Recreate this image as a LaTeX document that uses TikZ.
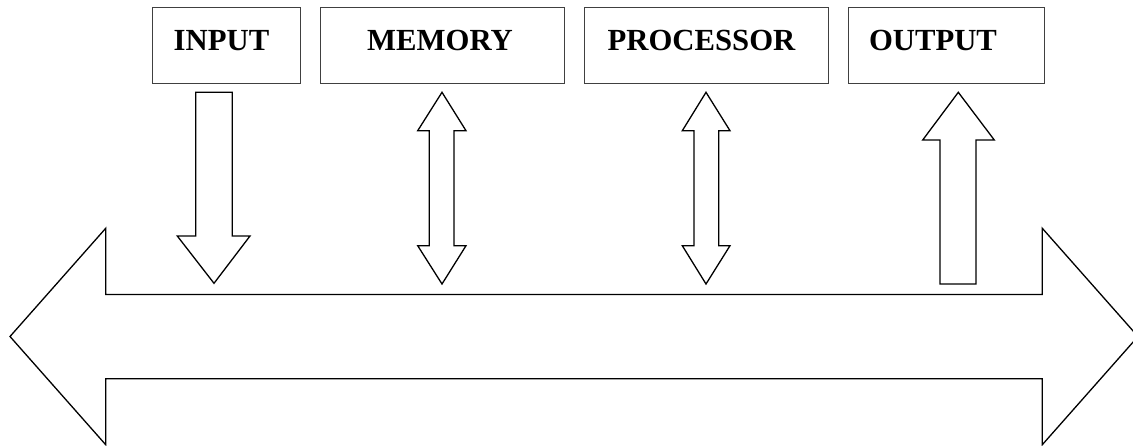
\documentclass[tikz,border=0pt]{standalone}
\usepackage{fontspec}
\setmainfont{Liberation Serif}
\begin{document}
\begin{tikzpicture}[x=1pt,y=-1pt,
  unitbox/.style={draw=black!75, line width=1pt},
  lbl/.style={font=\fontsize{30.7}{34}\selectfont\bfseries, anchor=base, inner sep=0pt},
  arrowshape/.style={draw=black, line width=1.3pt, line join=miter, fill=white}]
\useasboundingbox (0,0) rectangle (1133,445);
% boxes
\draw[unitbox] (152,7) rectangle (300,83);
\draw[unitbox] (320,7) rectangle (564,83);
\draw[unitbox] (584,7) rectangle (828,83);
\draw[unitbox] (848,7) rectangle (1044,83);
\node[lbl] (input) at (221.5,50) {INPUT};
\node[lbl] (memory) at (440,50) {MEMORY};
\node[lbl] (processor) at (701.5,50) {PROCESSOR};
\node[lbl] (output) at (933,50) {OUTPUT};
% bus arrow
\draw[arrowshape] (10,336.5) -- (105.7,228.3) -- (105.7,294.5) -- (1042.3,294.5) -- (1042.3,228.3)
  -- (1138,336.5) -- (1042.3,444.7) -- (1042.3,378.7) -- (105.7,378.7) -- (105.7,444.7) -- cycle;
% input down arrow
\draw[arrowshape] (195.7,92.3) -- (232.3,92.3) -- (232.3,236) -- (250,236) -- (214,283.3)
  -- (177.3,236) -- (195.7,236) -- cycle;
% memory double arrow
\draw[arrowshape] (442,92.3) -- (466,130.7) -- (454,130.7) -- (454,245.7) -- (466,245.7) -- (442,284)
  -- (417.7,245.7) -- (429.3,245.7) -- (429.3,130.7) -- (417.7,130.7) -- cycle;
% processor double arrow
\draw[arrowshape] (706,92.3) -- (730,130.7) -- (718.7,130.7) -- (718.7,245.7) -- (730,245.7) -- (706,284)
  -- (682.3,245.7) -- (694,245.7) -- (694,130.7) -- (682.3,130.7) -- cycle;
% output up arrow
\draw[arrowshape] (958.3,92.3) -- (994.3,140) -- (976,140) -- (976,284) -- (940,284) -- (940,140)
  -- (922.7,140) -- cycle;
\end{tikzpicture}
\end{document}
